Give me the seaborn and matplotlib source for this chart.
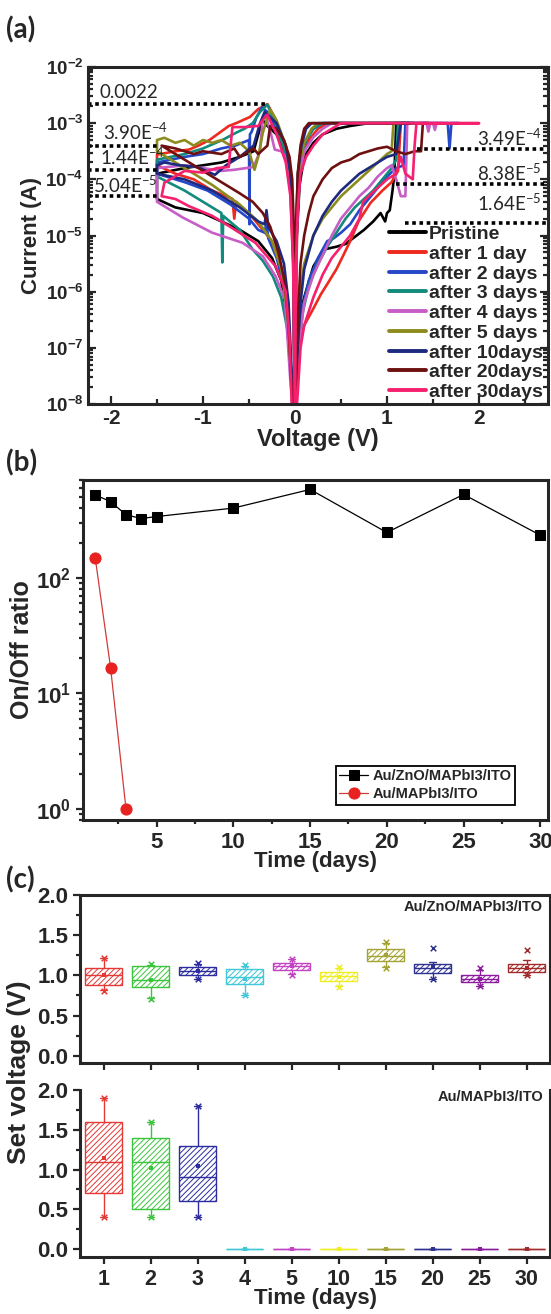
import numpy as np
import pandas as pd
import seaborn as sns
import matplotlib.pyplot as plt
from matplotlib.ticker import LogLocator, MultipleLocator, NullFormatter

sns.set_style('ticks')
plt.rcParams['font.family'] = ['Liberation Sans', 'DejaVu Sans']
plt.rcParams['font.weight'] = 'bold'
plt.rcParams['axes.labelweight'] = 'bold'
plt.rcParams['axes.linewidth'] = 2.2
plt.rcParams['axes.unicode_minus'] = False
plt.rcParams['hatch.linewidth'] = 0.7

# ---------------- (a) I-V sweeps, (V, log10 I) in sweep order
pristine = [(0, -8.5), (0.03, -7.0), (0.06, -6.4), (0.1, -6.1), (0.2, -5.55), (0.31, -5.25), (0.45, -5.2),
            (0.55, -5.15), (0.63, -5.05), (0.75, -4.9), (0.85, -4.75), (0.93, -4.6), (0.98, -4.75), (1.0, -4.6),
            (1.03, -4.55), (1.06, -4.2), (1.08, -3.9), (1.1, -3.0), (1.2, -3.0), (0.8, -3.0), (0.6, -3.05),
            (0.45, -3.1), (0.3, -3.2), (0.2, -3.35), (0.1, -3.6), (0.05, -4.1), (0.02, -5.0), (0, -8.5),
            (-0.02, -5.0), (-0.05, -4.0), (-0.1, -3.55), (-0.2, -3.2), (-0.3, -3.05), (-0.35, -2.95),
            (-0.4, -3.2), (-0.45, -3.5), (-0.6, -3.6), (-0.8, -3.7), (-1.0, -3.75), (-1.2, -3.8), (-1.5, -3.9),
            (-1.5, -4.35), (-1.3, -4.5), (-1.0, -4.6), (-0.8, -4.75), (-0.6, -4.9), (-0.4, -5.1), (-0.25, -5.4),
            (-0.15, -5.8), (-0.08, -6.5), (-0.04, -7.5), (0, -8.5)]
day1 = [(0, -8.5), (0.03, -7.5), (0.05, -6.9), (0.1, -6.6), (0.2, -6.3), (0.28, -6.05), (0.36, -5.84),
        (0.45, -5.6), (0.52, -5.37), (0.6, -5.1), (0.69, -4.75), (0.82, -4.42), (0.95, -4.2), (1.05, -4.05),
        (1.12, -3.85), (1.15, -3.0), (1.3, -3.0), (0.35, -3.0), (0.25, -3.1), (0.15, -3.3), (0.08, -3.6),
        (0.04, -4.0), (0.02, -5.0), (0, -8.5), (-0.02, -5.5), (-0.05, -4.2), (-0.1, -3.6), (-0.15, -3.2),
        (-0.22, -2.9), (-0.3, -2.66), (-0.4, -2.75), (-0.49, -2.89), (-0.64, -3.0), (-0.72, -3.05),
        (-0.82, -3.17), (-0.93, -3.3), (-1.05, -3.4), (-1.15, -3.47), (-1.3, -3.5), (-1.5, -3.56),
        (-1.5, -3.75), (-1.3, -3.9), (-1.1, -4.0), (-0.9, -4.2), (-0.75, -4.3), (-0.68, -4.35),
        (-0.66, -4.7), (-0.64, -4.4), (-0.45, -4.7), (-0.3, -5.0), (-0.2, -5.3), (-0.12, -5.8),
        (-0.07, -6.5), (-0.04, -7.5), (0, -8.5)]
day2 = [(0, -8.5), (0.04, -7.0), (0.08, -6.3), (0.15, -5.8), (0.25, -5.4), (0.35, -5.1), (0.42, -5.05),
        (0.5, -4.95), (0.6, -4.8), (0.7, -4.55), (0.8, -4.35), (0.9, -4.15), (1.0, -3.95), (1.1, -3.8),
        (1.18, -3.75), (1.2, -3.0), (1.66, -3.0), (1.68, -3.45), (1.7, -3.0), (1.78, -3.0), (0.3, -3.0),
        (0.2, -3.1), (0.12, -3.3), (0.06, -3.7), (0.03, -4.3), (0.01, -5.5), (0, -8.5), (-0.02, -5.2),
        (-0.05, -4.0), (-0.1, -3.5), (-0.2, -3.1), (-0.3, -2.8), (-0.36, -2.72), (-0.42, -2.9),
        (-0.47, -3.15), (-0.49, -3.2), (-0.495, -4.8), (-0.5, -3.3), (-0.65, -3.4), (-0.8, -3.45),
        (-1.0, -3.55), (-1.2, -3.6), (-1.5, -3.7), (-1.5, -3.9), (-1.2, -4.05), (-0.95, -4.2),
        (-0.7, -4.45), (-0.5, -4.7), (-0.4, -4.9), (-0.33, -4.95), (-0.31, -4.75), (-0.29, -5.05),
        (-0.2, -5.4), (-0.12, -5.9), (-0.07, -6.6), (-0.04, -7.5), (0, -8.5)]
day3 = [(0, -8.5), (0.04, -7.2), (0.08, -6.4), (0.15, -5.9), (0.25, -5.5), (0.35, -5.2), (0.45, -4.95),
        (0.55, -4.7), (0.65, -4.5), (0.75, -4.35), (0.85, -4.2), (0.95, -4.0), (1.05, -3.8), (1.1, -3.65),
        (1.12, -3.0), (1.3, -3.0), (0.3, -3.0), (0.2, -3.1), (0.12, -3.3), (0.06, -3.65), (0.03, -4.2),
        (0.01, -5.3), (0, -8.5), (-0.02, -5.3), (-0.05, -4.1), (-0.1, -3.55), (-0.2, -3.05), (-0.3, -2.67),
        (-0.38, -2.8), (-0.46, -3.0), (-0.55, -3.1), (-0.64, -3.17), (-0.79, -3.3), (-0.86, -3.35),
        (-1.0, -3.45), (-1.2, -3.55), (-1.5, -3.65), (-1.5, -3.95), (-1.2, -4.2), (-0.95, -4.45),
        (-0.8, -4.6), (-0.79, -5.48), (-0.78, -4.65), (-0.6, -4.9), (-0.46, -5.25), (-0.35, -5.45),
        (-0.24, -5.73), (-0.15, -6.1), (-0.08, -6.7), (-0.04, -7.6), (0, -8.5)]
day4 = [(0, -8.5), (0.04, -7.0), (0.1, -6.2), (0.2, -5.7), (0.3, -5.35), (0.4, -5.0), (0.5, -4.7),
        (0.6, -4.5), (0.7, -4.3), (0.8, -4.15), (0.9, -3.95), (1.0, -3.8), (1.05, -3.75), (1.1, -4.0),
        (1.15, -4.3), (1.2, -4.3), (1.22, -3.0), (1.43, -3.0), (1.45, -3.15), (1.47, -3.0), (1.5, -3.0),
        (1.52, -3.12), (1.54, -3.0), (1.6, -3.0), (0.4, -3.0), (0.3, -3.1), (0.2, -3.25), (0.1, -3.5),
        (0.05, -3.9), (0.02, -4.8), (0, -8.5), (-0.02, -5.0), (-0.05, -4.0), (-0.1, -3.6), (-0.15, -3.5),
        (-0.22, -3.47), (-0.26, -3.2), (-0.32, -2.85), (-0.35, -2.9), (-0.38, -3.5), (-0.45, -3.78),
        (-0.66, -3.83), (-0.8, -3.85), (-1.0, -3.8), (-1.2, -3.75), (-1.5, -3.8), (-1.5, -4.4),
        (-1.22, -4.68), (-0.9, -4.95), (-0.57, -5.13), (-0.35, -5.37), (-0.21, -5.73), (-0.11, -6.14),
        (-0.08, -6.85), (-0.05, -7.6), (0, -8.5)]
day5 = [(0, -8.5), (0.03, -7.0), (0.06, -6.0), (0.1, -5.5), (0.2, -5.0), (0.3, -4.7), (0.4, -4.5),
        (0.5, -4.3), (0.6, -4.15), (0.7, -4.0), (0.8, -3.85), (0.9, -3.7), (1.0, -3.55), (1.05, -3.5),
        (1.07, -3.0), (1.15, -3.0), (0.25, -3.0), (0.18, -3.1), (0.1, -3.35), (0.05, -3.7), (0.02, -4.5),
        (0, -8.5), (-0.02, -5.0), (-0.05, -3.9), (-0.1, -3.4), (-0.2, -2.95), (-0.27, -2.76), (-0.3, -2.9),
        (-0.35, -3.17), (-0.4, -3.6), (-0.44, -3.83), (-0.5, -3.5), (-0.6, -3.35), (-0.7, -3.4),
        (-0.8, -3.3), (-0.9, -3.35), (-1.0, -3.3), (-1.1, -3.4), (-1.2, -3.3), (-1.3, -3.35),
        (-1.42, -3.26), (-1.5, -3.3), (-1.5, -3.5), (-1.2, -3.8), (-0.9, -4.1), (-0.6, -4.45),
        (-0.4, -4.75), (-0.25, -5.1), (-0.15, -5.6), (-0.08, -6.4), (-0.04, -7.5), (0, -8.5)]
day10 = [(0, -8.5), (0.03, -7.0), (0.06, -6.2), (0.1, -5.6), (0.2, -5.0), (0.3, -4.65), (0.4, -4.4),
         (0.5, -4.2), (0.6, -4.05), (0.7, -3.9), (0.8, -3.8), (0.9, -3.7), (1.0, -3.6), (1.1, -3.55),
         (1.15, -3.0), (1.25, -3.0), (0.18, -3.0), (0.12, -3.1), (0.07, -3.4), (0.03, -3.9), (0.01, -5.0),
         (0, -8.5), (-0.02, -5.0), (-0.05, -3.9), (-0.1, -3.4), (-0.2, -3.0), (-0.33, -2.8), (-0.38, -3.0),
         (-0.45, -3.4), (-0.6, -3.6), (-0.75, -3.75), (-0.87, -3.92), (-1.06, -3.78), (-1.25, -3.75),
         (-1.42, -3.7), (-1.5, -3.75), (-1.5, -3.9), (-1.2, -4.0), (-0.9, -4.2), (-0.6, -4.5),
         (-0.4, -4.75), (-0.33, -4.8), (-0.31, -4.55), (-0.29, -4.85), (-0.2, -5.1), (-0.12, -5.5),
         (-0.07, -6.2), (-0.04, -7.3), (0, -8.5)]
day20 = [(0, -8.5), (0.03, -6.5), (0.06, -5.5), (0.1, -5.0), (0.15, -4.6), (0.2, -4.3), (0.3, -4.0),
         (0.4, -3.8), (0.5, -3.7), (0.6, -3.65), (0.7, -3.55), (0.8, -3.5), (0.9, -3.45), (1.0, -3.42),
         (1.1, -3.5), (1.2, -3.55), (1.3, -3.5), (1.37, -3.5), (1.39, -3.0), (1.45, -3.0), (0.15, -3.0),
         (0.1, -3.1), (0.06, -3.4), (0.03, -3.9), (0.01, -5.0), (0, -8.5), (-0.01, -5.0), (-0.03, -4.0),
         (-0.06, -3.6), (-0.12, -3.3), (-0.2, -3.1), (-0.27, -3.05), (-0.3, -3.4), (-0.4, -3.55),
         (-0.45, -3.45), (-0.5, -3.5), (-0.6, -3.6), (-0.66, -3.45), (-0.8, -3.55), (-1.0, -3.5),
         (-1.1, -3.55), (-1.3, -3.45), (-1.45, -3.4), (-1.2, -3.65), (-1.0, -3.85), (-0.8, -4.05),
         (-0.6, -4.25), (-0.46, -4.4), (-0.35, -4.6), (-0.27, -4.84), (-0.18, -5.3), (-0.11, -5.84),
         (-0.07, -6.6), (-0.04, -7.6), (0, -8.5)]
day30 = [(0, -8.5), (0.03, -7.8), (0.06, -7.0), (0.1, -6.6), (0.2, -6.1), (0.3, -5.7), (0.4, -5.4),
         (0.5, -5.2), (0.6, -5.0), (0.7, -4.7), (0.74, -4.4), (0.8, -4.3), (0.9, -4.15), (1.0, -4.0),
         (1.1, -3.9), (1.15, -3.6), (1.2, -3.9), (1.28, -4.0), (1.3, -3.4), (1.32, -3.0), (2.0, -3.0),
         (0.5, -3.0), (0.4, -3.1), (0.3, -3.2), (0.2, -3.4), (0.12, -3.6), (0.06, -3.9), (0.03, -4.5),
         (0.01, -5.5), (0, -8.5), (-0.02, -5.5), (-0.05, -4.3), (-0.1, -3.7), (-0.2, -3.2), (-0.3, -2.85),
         (-0.33, -2.9), (-0.4, -3.05), (-0.55, -3.07), (-0.68, -3.07), (-0.7, -3.4), (-0.72, -3.78),
         (-0.85, -3.8), (-1.0, -3.88), (-1.2, -3.85), (-1.42, -4.06), (-1.45, -4.3), (-1.3, -4.35),
         (-1.15, -4.48), (-0.9, -4.65), (-0.71, -4.84), (-0.43, -5.13), (-0.21, -5.55), (-0.1, -6.0),
         (-0.06, -6.8), (-0.04, -7.8), (-0.03, -8.5)]

iv_curves = [pristine, day1, day2, day3, day4, day5, day10, day20, day30]
iv_names = ['Pristine', 'after 1 day', 'after 2 days', 'after 3 days', 'after 4 days',
            'after 5 days', 'after 10days', 'after 20days', 'after 30days']
iv_colors = ['#000000', '#ee2a1e', '#2548c8', '#128a7c', '#c65ec6', '#8c8c1e', '#1e2a80', '#6e1010', '#f5206e']

ref_left = [2.2e-3, 3.90e-4, 1.44e-4, 5.04e-5]
ref_left_end = [-0.3, -1.47, -1.47, -1.47]
ref_left_txt = ['0.0022', '3.90E$^{\\mathregular{-4}}$', '1.44E$^{\\mathregular{-4}}$', '5.04E$^{\\mathregular{-5}}$']
ref_left_pos = [(-2.12, -2.46), (-2.09, -3.15), (-2.12, -3.6), (-2.2, -4.1)]
ref_right = [3.49e-4, 8.38e-5, 1.64e-5]
ref_right_start = [1.33, 1.1, 1.2]
ref_right_txt = ['3.49E$^{\\mathregular{-4}}$', '8.38E$^{\\mathregular{-5}}$', '1.64E$^{\\mathregular{-5}}$']
ref_right_pos = [(2.68, -3.26), (2.68, -3.88), (2.68, -4.42)]

# ---------------- (b) on/off ratio
days_b = [1, 2, 3, 4, 5, 10, 15, 20, 25, 30]
ratio_zno = [520, 455, 350, 325, 338, 400, 580, 246, 525, 233]
ratio_mapbi = [147, 16.5, 1.0]

# ---------------- (c) set voltage box stats
days_c = ['1', '2', '3', '4', '5', '10', '15', '20', '25', '30']
box_colors = ['#e53935', '#3dc43d', '#2c2c9e', '#3fc8d8', '#c244c2', '#eeee22', '#a4a436', '#2e3192', '#8c1c9e', '#a32a2a']
zno_wlo = [0.82, 0.72, 0.96, 0.76, 1.02, 0.87, 1.10, 0.96, 0.87, 1.01]
zno_q1 = [0.88, 0.85, 1.00, 0.89, 1.07, 0.93, 1.18, 1.03, 0.92, 1.04]
zno_med = [1.00, 0.94, 1.06, 0.98, 1.12, 0.99, 1.24, 1.09, 0.96, 1.09]
zno_q3 = [1.09, 1.12, 1.11, 1.08, 1.16, 1.04, 1.33, 1.14, 1.00, 1.14]
zno_whi = [1.22, 1.13, 1.14, 1.12, 1.20, 1.09, 1.40, 1.17, 1.07, 1.19]
zno_mean = [1.00, 0.94, 1.06, 0.96, 1.12, 0.98, 1.25, 1.10, 0.96, 1.09]
zno_min = [0.81, 0.71, 0.96, 0.75, 1.01, 0.86, 1.09, 0.95, 0.87, 1.00]
zno_max = [1.22, 1.14, 1.15, 1.13, 1.21, 1.10, 1.42, 1.34, 1.09, 1.32]

mapbi_wlo = [0.40, 0.40, 0.40, 0, 0, 0, 0, 0, 0, 0]
mapbi_q1 = [0.70, 0.50, 0.60, 0, 0, 0, 0, 0, 0, 0]
mapbi_med = [1.10, 1.10, 0.90, 0, 0, 0, 0, 0, 0, 0]
mapbi_q3 = [1.60, 1.40, 1.30, 0, 0, 0, 0, 0, 0, 0]
mapbi_whi = [1.90, 1.60, 1.80, 0, 0, 0, 0, 0, 0, 0]
mapbi_mean = [1.15, 1.02, 1.04, 0, 0, 0, 0, 0, 0, 0]
mapbi_min = [0.40, 0.40, 0.40]
mapbi_max = [1.90, 1.60, 1.80]

W, H = 551, 1314
fig = plt.figure(figsize=(W / 100, H / 100), dpi=100)


def frac(l, t, r, b):
    return [l / W, 1 - b / H, (r - l) / W, (b - t) / H]


# ======== (a)
ax = fig.add_axes(frac(88, 67, 548, 404))
for pts, name, col in zip(iv_curves, iv_names, iv_colors):
    arr = np.array(pts)
    sns.lineplot(x=arr[:, 0], y=np.power(10.0, arr[:, 1]), sort=False, estimator=None,
                 color=col, lw=1.9, label=name, ax=ax)
ax.set_yscale('log')
ax.set_xlim(-2.25, 2.75)
ax.set_ylim(1e-8, 1e-2)
for lvl, xe in zip(ref_left, ref_left_end):
    ax.plot([-2.25, xe], [lvl, lvl], ls=(0, (1, 1)), color='black', lw=2.6)
for lvl, xs in zip(ref_right, ref_right_start):
    ax.plot([xs, 2.75], [lvl, lvl], ls=(0, (1, 1)), color='black', lw=2.6)
for txt, (xv, ly) in zip(ref_left_txt, ref_left_pos):
    ax.text(xv, 10 ** ly, txt, ha='left', va='center', fontsize=13.5, family='Lato', fontweight='normal')
for txt, (xv, ly) in zip(ref_right_txt, ref_right_pos):
    ax.text(xv, 10 ** ly, txt, ha='right', va='center', fontsize=13.5, family='Lato', fontweight='normal')
ax.xaxis.set_major_locator(MultipleLocator(1))
ax.xaxis.set_minor_locator(MultipleLocator(0.5))
ax.yaxis.set_major_locator(LogLocator(base=10, numticks=12))
ax.yaxis.set_minor_locator(LogLocator(base=10, subs=np.arange(2, 10), numticks=12))
ax.yaxis.set_minor_formatter(NullFormatter())
ax.tick_params(which='both', direction='in', right=True, width=1.6, labelsize=13.5)
ax.tick_params(axis='x', labelsize=15)
ax.tick_params(which='major', length=6)
ax.tick_params(which='minor', length=3.5)
ax.set_xlabel('Voltage (V)', fontsize=17, labelpad=0)
ax.set_ylabel('Current (A)', fontsize=16, labelpad=2)
leg = ax.legend(loc='lower right', frameon=False, fontsize=14, handlelength=1.9, handletextpad=0.15,
                labelspacing=0.11, borderaxespad=0.1, bbox_to_anchor=(1.01, -0.02))
for ln in leg.get_lines():
    ln.set_linewidth(2.8)

# ======== (b)
axb = fig.add_axes(frac(83, 480, 548, 820))
sns.lineplot(x=days_b, y=ratio_zno, marker='s', color='black', lw=0.9, markersize=7,
             markeredgecolor='black', label='Au/ZnO/MAPbI3/ITO', ax=axb)
sns.lineplot(x=days_b[:len(ratio_mapbi)], y=ratio_mapbi, marker='o', color='#e8231f', lw=0.9,
             markersize=8, markeredgecolor='#e8231f', label='Au/MAPbI3/ITO', ax=axb)
axb.get_lines()[-1].set_color('#d03a3a')
axb.get_lines()[-1].set_markerfacecolor('#e8231f')
axb.set_yscale('log')
axb.set_ylim(0.8, 700)
axb.set_xlim(0.2, 30.5)
axb.xaxis.set_major_locator(MultipleLocator(5))
axb.xaxis.set_minor_locator(MultipleLocator(2.5))
axb.yaxis.set_major_locator(LogLocator(base=10, numticks=12))
axb.yaxis.set_minor_locator(LogLocator(base=10, subs=np.arange(2, 10), numticks=12))
axb.yaxis.set_minor_formatter(NullFormatter())
axb.tick_params(which='both', direction='out', width=1.6, labelsize=16)
axb.tick_params(which='major', length=5)
axb.tick_params(which='minor', length=3)
axb.set_xlabel('Time (days)', fontsize=16, labelpad=-1)
axb.set_ylabel('On/Off ratio', fontsize=18, labelpad=2)
legb = axb.legend(loc='lower right', bbox_to_anchor=(0.93, 0.045), frameon=True, fancybox=False,
                  edgecolor='black', framealpha=1, fontsize=10.5, borderpad=0.25, handlelength=2.0,
                  handletextpad=0.3, labelspacing=0.25, borderaxespad=0)
legb.get_frame().set_linewidth(1.3)


# ======== (c)
def box_panel(axc, wlo, q1, med, q3, whi, mean, vmin, vmax):
    df = pd.DataFrame({'day': np.repeat(days_c, 5),
                       'v': np.column_stack([wlo, q1, med, q3, whi]).ravel()})
    sns.boxplot(data=df, x='day', y='v', hue='day', order=days_c, hue_order=days_c,
                palette=box_colors, whis=(0, 100), width=0.8, linewidth=1.0, legend=False,
                capwidths=0.15, ax=axc)
    for cont, col in zip(axc.containers, box_colors):
        for bx in cont.boxes:
            bx.set_facecolor('white')
            bx.set_edgecolor(col)
            bx.set_hatch('//////')
        for ln in list(cont.whiskers) + list(cont.caps) + list(cont.medians):
            ln.set_color(col)
    sns.stripplot(x=days_c, y=mean, hue=days_c, order=days_c, hue_order=days_c, palette=box_colors,
                  marker='s', size=3.5, jitter=False, legend=False, linewidth=0, ax=axc, zorder=5)
    n = len(vmin)
    for vals in (vmin, vmax):
        sns.stripplot(x=days_c[:n], y=vals, hue=days_c[:n], order=days_c, hue_order=days_c[:n],
                      palette=box_colors[:n], marker='x', size=4, jitter=False, legend=False,
                      linewidth=1.1, ax=axc, zorder=5)
    axc.set_xlim(-0.5, len(days_c) - 0.5)
    axc.yaxis.set_major_locator(MultipleLocator(0.5))
    axc.yaxis.set_minor_locator(MultipleLocator(0.25))
    axc.tick_params(which='both', direction='out', width=1.6, labelsize=16)
    axc.tick_params(which='major', length=5)
    axc.tick_params(which='minor', length=3)
    axc.set_xlabel('')
    axc.set_ylabel('')


ax1 = fig.add_axes(frac(80, 895, 550, 1063))
box_panel(ax1, zno_wlo, zno_q1, zno_med, zno_q3, zno_whi, zno_mean, zno_min, zno_max)
ax1.set_ylim(-0.09, 2.0)
ax1.tick_params(axis='x', labelbottom=False)
ax1.text(0.985, 0.93, 'Au/ZnO/MAPbI3/ITO', transform=ax1.transAxes, ha='right', va='center', fontsize=10.5)

ax2 = fig.add_axes(frac(80, 1090, 550, 1257))
box_panel(ax2, mapbi_wlo, mapbi_q1, mapbi_med, mapbi_q3, mapbi_whi, mapbi_mean, mapbi_min, mapbi_max)
ax2.set_ylim(-0.1, 2.0)
ax2.spines['top'].set_visible(False)
ax2.tick_params(axis='x', labelsize=15.5)
ax2.text(0.985, 0.96, 'Au/MAPbI3/ITO', transform=ax2.transAxes, ha='right', va='center', fontsize=10.5)
ax2.set_xlabel('Time (days)', fontsize=16, labelpad=-1)

fig.text(19 / W, 1 - 1072 / H, 'Set voltage (V)', rotation=90, ha='center', va='center', fontsize=19)

for lab, yp in (('(a)', 30), ('(b)', 463), ('(c)', 880)):
    fig.text(6 / W, 1 - yp / H, lab, ha='left', va='center', fontsize=20, family='Lato', fontweight='bold')

fig.savefig('out.png', dpi=100)
